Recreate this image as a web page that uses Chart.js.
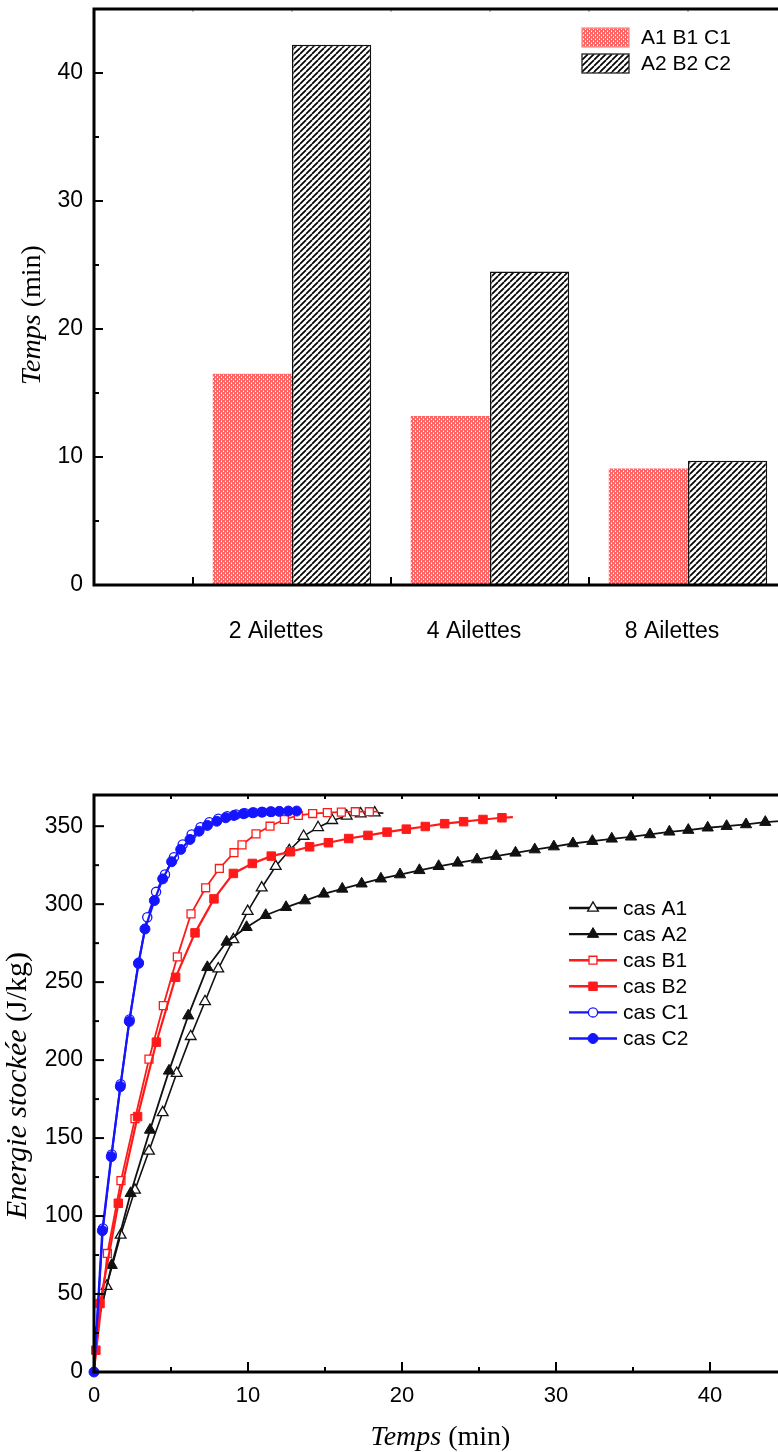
<!DOCTYPE html>
<html><head><meta charset="utf-8">
<script src="https://cdn.jsdelivr.net/npm/chart.js@4.4.1/dist/chart.umd.min.js"></script>
<style>
html,body{margin:0;padding:0;background:#fff;overflow:hidden;}
#wrap{position:relative;width:778px;height:1452px;overflow:hidden;background:#fff;}
#c1{position:absolute;left:0;top:0;}
#c2{position:absolute;left:0;top:700px;}
</style></head>
<body><div id="wrap"><canvas id="c1" width="800" height="700"></canvas><canvas id="c2" width="800" height="752"></canvas></div>
<script>
// ---------------- DATA ----------------
// Bar chart
const barCategories = ['2 Ailettes', '4 Ailettes', '8 Ailettes'];
const barPositions = [1, 2, 3];
const barSeriesNames = ['A1 B1 C1', 'A2 B2 C2'];
const barSeries1 = [16.5, 13.2, 9.1];
const barSeries2 = [42.2, 24.5, 9.7];
const barXMax = 3.5;
const barYMax = 45;

// Line chart (time in min, stored energy in J/kg)
const lineSeriesNames = ['cas A1', 'cas A2', 'cas B1', 'cas B2', 'cas C1', 'cas C2'];
const a1T = [0, 0.12, 0.82, 1.73, 2.66, 3.57, 4.46, 5.37, 6.28, 7.21, 8.07, 9.05, 9.98, 10.89, 11.80, 12.68, 13.61, 14.55, 15.47, 16.41, 17.32, 18.23, 18.79];
const a1E = [0, 27, 55.0, 87.8, 116.7, 141.7, 166.4, 191.6, 215.2, 237.6, 258.6, 277.3, 295.4, 310.5, 324.3, 334.4, 343.6, 349.2, 353.7, 356.5, 358.0, 358.6, 358.4];
const a2T = [0, 0.12, 1.15, 2.38, 3.64, 4.87, 6.12, 7.36, 8.61, 9.91, 11.15, 12.47, 13.70, 14.92, 16.12, 17.38, 18.63, 19.87, 21.13, 22.38, 23.62, 24.87, 26.11, 27.37, 28.62, 29.86, 31.10, 32.36, 33.62, 34.87, 36.10, 37.36, 38.59, 39.85, 41.08, 42.34, 43.59, 45.0];
const a2E = [0, 27, 68.5, 114.6, 155.2, 193.1, 228.5, 259.5, 275.8, 285.2, 292.9, 298.0, 302.3, 306.6, 309.8, 313.1, 316.3, 319.0, 321.7, 324.3, 326.5, 328.6, 330.8, 332.9, 335.0, 336.9, 338.9, 340.4, 341.9, 343.2, 344.7, 346.4, 347.5, 349.0, 350.0, 351.1, 352.6, 353.6];
const b1T = [0, 0.87, 1.75, 2.66, 3.57, 4.50, 5.41, 6.30, 7.25, 8.14, 9.09, 9.61, 10.52, 11.43, 12.36, 13.27, 14.20, 15.15, 16.06, 16.97, 17.88, 18.46];
const b1E = [0, 76.0, 122.7, 162.5, 200.6, 234.9, 266.2, 293.8, 310.5, 322.9, 333.0, 338.0, 345.1, 350.0, 354.3, 356.9, 358.1, 358.7, 359.0, 359.3, 359.3, 359.3];
const b2T = [0, 0.12, 0.39, 1.58, 2.83, 4.05, 5.30, 6.56, 7.79, 9.05, 10.28, 11.51, 12.75, 14.00, 15.22, 16.54, 17.79, 19.03, 20.28, 21.51, 22.77, 24.00, 25.26, 26.49, 27.20];
const b2E = [0, 14, 43.9, 108.2, 163.8, 211.5, 253.1, 281.6, 303.4, 319.7, 326.1, 330.8, 333.6, 336.8, 339.4, 342.1, 344.1, 346.2, 348.1, 349.8, 351.6, 352.9, 354.3, 355.4, 355.8];
const c1T = [0, 0.58, 1.15, 1.73, 2.31, 2.88, 3.46, 4.03, 4.61, 5.19, 5.76, 6.34, 6.92, 7.49, 8.07, 8.65, 9.22, 9.80, 10.38, 10.95, 11.53];
const c1E = [0, 92, 139.5, 184.5, 226, 262, 291.6, 307.9, 319.0, 330.1, 338.3, 344.7, 349.3, 352.5, 354.8, 356.4, 357.5, 358.3, 358.8, 359.1, 359.3];
const c2T = [0, 0.54, 1.12, 1.71, 2.29, 2.90, 3.31, 3.92, 4.46, 5.04, 5.63, 6.23, 6.82, 7.36, 7.97, 8.55, 9.09, 9.70, 10.30, 10.89, 11.47, 12.03, 12.62, 13.16];
const c2E = [0, 90.6, 138.1, 183.0, 224.8, 262.3, 284.1, 302.3, 316.2, 327.2, 335.1, 341.5, 346.8, 350.5, 353.2, 355.4, 356.9, 358.0, 358.6, 359.0, 359.3, 359.5, 359.7, 359.7];
const lineXMax = 45;
const lineYMax = 370;

// ---------------- HELPERS ----------------
const SANS = "'Liberation Sans', Arial, sans-serif";
const SERIF = "'Liberation Serif', 'Times New Roman', serif";

function dotPattern() {
  const c = document.createElement('canvas'); c.width = 4; c.height = 4;
  const g = c.getContext('2d');
  g.fillStyle = '#ff6464'; g.fillRect(0, 0, 4, 4);
  g.fillStyle = '#ffffff'; g.fillRect(1, 1, 1, 1); g.fillRect(3, 3, 1, 1);
  g.fillStyle = '#ffb4b4'; g.fillRect(1, 0, 1, 1); g.fillRect(3, 2, 1, 1);
  return g.createPattern(c, 'repeat');
}
function hatchPattern() {
  const s = 6;
  const c = document.createElement('canvas'); c.width = s; c.height = s;
  const g = c.getContext('2d');
  g.fillStyle = '#fff'; g.fillRect(0, 0, s, s);
  g.strokeStyle = '#000'; g.lineWidth = 1.7;
  for (const off of [-s, 0, s]) { g.beginPath(); g.moveTo(off, s); g.lineTo(off + s, 0); g.stroke(); }
  return g.createPattern(c, 'repeat');
}
const DOTS = dotPattern();
const HATCH = hatchPattern();

function seg(ctx, x1, y1, x2, y2) { ctx.beginPath(); ctx.moveTo(x1, y1); ctx.lineTo(x2, y2); ctx.stroke(); }

function drawMixed(ctx, parts, x, y, size, rotate) {
  ctx.save();
  ctx.translate(x, y);
  if (rotate) ctx.rotate(-Math.PI / 2);
  let total = 0;
  for (const p of parts) { ctx.font = (p.italic ? 'italic ' : '') + size + 'px ' + SERIF; total += ctx.measureText(p.text).width; }
  let cx = -total / 2;
  ctx.fillStyle = '#000'; ctx.textBaseline = 'alphabetic'; ctx.textAlign = 'left';
  for (const p of parts) {
    ctx.font = (p.italic ? 'italic ' : '') + size + 'px ' + SERIF;
    ctx.fillText(p.text, cx, 0);
    cx += ctx.measureText(p.text).width;
  }
  ctx.restore();
}

function fixScales(scale, size) {
  if (scale.isHorizontal()) scale.height = size; else scale.width = size;
  scale.paddingTop = 0; scale.paddingBottom = 0; scale.paddingLeft = 0; scale.paddingRight = 0;
}

// ---------------- BAR CHART ----------------
const barPlugin = {
  id: 'barDeco',
  afterDatasetsDraw(chart) {
    const ctx = chart.ctx, a = chart.chartArea, xs = chart.scales.x, ys = chart.scales.y;
    ctx.save();
    ctx.lineCap = 'butt';
    ctx.strokeStyle = '#000'; ctx.lineWidth = 2;
    for (let v = 5; v < ys.max; v += 5) {
      const py = ys.getPixelForValue(v);
      seg(ctx, a.left, py, a.left + (v % 10 === 0 ? 9 : 5), py);
    }
    // bottom ticks at category boundaries
    for (const p of barPositions) {
      const px = xs.getPixelForValue(p - 0.5);
      seg(ctx, px, a.bottom, px, a.bottom - 8);
    }
    // faint top ticks (boundaries and centres)
    ctx.strokeStyle = '#aaa'; ctx.lineWidth = 1.5;
    for (const p of barPositions) {
      for (const q of [p - 0.5, p]) {
        const px = xs.getPixelForValue(q);
        seg(ctx, px, a.top, px, a.top + 3);
      }
    }
    // frame
    ctx.strokeStyle = '#000'; ctx.lineWidth = 3;
    ctx.beginPath();
    ctx.moveTo(a.right, a.top); ctx.lineTo(a.left, a.top); ctx.lineTo(a.left, a.bottom); ctx.lineTo(a.right, a.bottom);
    ctx.stroke();
    // legend
    const fills = [DOTS, HATCH];
    ctx.font = '21px ' + SANS; ctx.textBaseline = 'middle'; ctx.textAlign = 'left';
    chart.data.datasets.forEach((ds, i) => {
      const bx = a.left + 488, by = a.top + 19 + i * 26;
      ctx.fillStyle = fills[i]; ctx.fillRect(bx, by, 47, 19);
      ctx.lineWidth = 1.3; ctx.strokeStyle = i === 0 ? '#ff8c8c' : '#222';
      ctx.strokeRect(bx, by, 47, 19);
      ctx.fillStyle = '#000';
      ctx.fillText(ds.label, a.left + 547, by + 10);
    });
    drawMixed(ctx, [{ text: 'Temps', italic: true }, { text: ' (min)', italic: false }], 40, (a.top + a.bottom) / 2 + 18, 28, true);
    ctx.restore();
  }
};

new Chart(document.getElementById('c1'), {
  type: 'bar',
  data: {
    datasets: [
      { label: barSeriesNames[0], data: barPositions.map((x, i) => ({ x, y: barSeries1[i] })), backgroundColor: DOTS, borderWidth: 0 },
      { label: barSeriesNames[1], data: barPositions.map((x, i) => ({ x, y: barSeries2[i] })), backgroundColor: HATCH, borderColor: '#111', borderWidth: 1.5 }
    ]
  },
  options: {
    responsive: false, animation: false, devicePixelRatio: 1,
    layout: { padding: { top: 9, right: 13, left: 0, bottom: 0 } },
    plugins: { legend: { display: false }, tooltip: { enabled: false } },
    datasets: { bar: { categoryPercentage: 0.8, barPercentage: 1.0 } },
    scales: {
      x: {
        type: 'linear', min: 0, max: barXMax, offset: false,
        grid: { display: false, drawTicks: false }, border: { display: false },
        ticks: {
          stepSize: 1, includeBounds: false,
          callback: v => barCategories[barPositions.indexOf(v)] || '',
          font: { family: SANS, size: 23 }, color: '#000', padding: 33, labelOffset: -16, maxRotation: 0, autoSkip: false
        },
        afterFit: s => fixScales(s, 115)
      },
      y: {
        min: 0, max: barYMax,
        grid: { display: false, drawTicks: false }, border: { display: false },
        ticks: { stepSize: 10, includeBounds: false, font: { family: SANS, size: 23 }, color: '#000', padding: 11 },
        afterFit: s => fixScales(s, 94)
      }
    }
  },
  plugins: [barPlugin]
});

// ---------------- LINE CHART ----------------
function pts(T, E) { return T.map((t, i) => ({ x: t, y: E[i] })); }
function markerRadius(r, lead, tail, len) {
  return ctx => (ctx.dataIndex < lead || ctx.dataIndex >= len - tail) ? 0 : r;
}
const RED = '#ff1a1a', BLUE = '#1414ff', BLK = '#111';
const lineDefs = [
  { T: a1T, E: a1E, lead: 2, tail: 1, color: BLK, lw: 1.6, style: 'triangle', r: 6.2, filled: false, order: 6 },
  { T: a2T, E: a2E, lead: 2, tail: 1, color: BLK, lw: 1.8, style: 'triangle', r: 6.5, filled: true, order: 5 },
  { T: b1T, E: b1E, lead: 1, tail: 1, color: RED, lw: 1.8, style: 'rect', r: 5.6, filled: false, order: 4 },
  { T: b2T, E: b2E, lead: 1, tail: 1, color: RED, lw: 2.2, style: 'rect', r: 6.0, filled: true, order: 3 },
  { T: c1T, E: c1E, lead: 1, tail: 0, color: BLUE, lw: 2, style: 'circle', r: 4.6, filled: false, order: 2 },
  { T: c2T, E: c2E, lead: 0, tail: 0, color: BLUE, lw: 2.2, style: 'circle', r: 5.0, filled: true, order: 1 }
];
const lineDatasets = lineDefs.map((d, i) => ({
  label: lineSeriesNames[i],
  data: pts(d.T, d.E),
  borderColor: d.color, borderWidth: d.lw, tension: 0, fill: false,
  pointStyle: d.style,
  pointRadius: markerRadius(d.r, d.lead, d.tail, d.T.length),
  pointBackgroundColor: d.filled ? d.color : '#fff',
  pointBorderColor: d.color,
  pointBorderWidth: d.filled ? 1 : 1.3,
  order: d.order,
  clip: 8
}));

const linePlugin = {
  id: 'lineDeco',
  afterDatasetsDraw(chart) {
    const ctx = chart.ctx, a = chart.chartArea, xs = chart.scales.x, ys = chart.scales.y;
    ctx.save();
    ctx.strokeStyle = '#000'; ctx.lineWidth = 2; ctx.lineCap = 'butt';
    for (let v = 25; v < ys.max; v += 25) {
      const py = ys.getPixelForValue(v);
      seg(ctx, a.left, py, a.left + (v % 50 === 0 ? 10 : 5), py);
    }
    for (let v = 5; v <= xs.max; v += 5) {
      const px = xs.getPixelForValue(v);
      seg(ctx, px, a.bottom, px, a.bottom - (v % 10 === 0 ? 10 : 5));
      seg(ctx, px, a.top, px, a.top + 4);
    }
    ctx.lineWidth = 3;
    ctx.beginPath();
    ctx.moveTo(a.right, a.top); ctx.lineTo(a.left, a.top); ctx.lineTo(a.left, a.bottom); ctx.lineTo(a.right, a.bottom);
    ctx.stroke();
    // legend
    ctx.font = '21px ' + SANS; ctx.textBaseline = 'middle'; ctx.textAlign = 'left';
    chart.data.datasets.forEach((ds, i) => {
      const y = a.top + 113 + i * 26.1;
      const x0 = a.left + 475, x1 = a.left + 523, xm = (x0 + x1) / 2;
      ctx.strokeStyle = ds.borderColor; ctx.lineWidth = 2.4;
      seg(ctx, x0, y, x1, y);
      const d = lineDefs[i];
      ctx.fillStyle = d.filled ? d.color : '#fff'; ctx.strokeStyle = d.color; ctx.lineWidth = d.filled ? 1 : 1.3;
      Chart.helpers.drawPoint(ctx, { pointStyle: d.style, radius: d.r, borderWidth: d.filled ? 1 : 1.3 }, xm, y);
      ctx.fillStyle = '#000';
      ctx.fillText(ds.label, a.left + 529, y + 1);
    });
    drawMixed(ctx, [{ text: 'Energie stockée', italic: true }, { text: ' (J/kg)', italic: false }], 26, (a.top + a.bottom) / 2 + 2, 30, true);
    drawMixed(ctx, [{ text: 'Temps', italic: true }, { text: ' (min)', italic: false }], (a.left + a.right) / 2, a.bottom + 73, 28, false);
    ctx.restore();
  }
};

new Chart(document.getElementById('c2'), {
  type: 'line',
  data: { datasets: lineDatasets },
  options: {
    responsive: false, animation: false, devicePixelRatio: 1,
    layout: { padding: { top: 95, right: 13, left: 0, bottom: 0 } },
    plugins: { legend: { display: false }, tooltip: { enabled: false } },
    scales: {
      x: {
        type: 'linear', min: 0, max: lineXMax,
        grid: { display: false, drawTicks: false }, border: { display: false },
        ticks: { stepSize: 10, includeBounds: false, font: { family: SANS, size: 22 }, color: '#000', padding: 11, maxRotation: 0 },
        afterFit: s => fixScales(s, 80)
      },
      y: {
        min: 0, max: lineYMax,
        grid: { display: false, drawTicks: false }, border: { display: false },
        ticks: { stepSize: 50, includeBounds: false, font: { family: SANS, size: 23 }, color: '#000', padding: 11 },
        afterFit: s => fixScales(s, 94)
      }
    }
  },
  plugins: [linePlugin]
});
</script>
</body></html>
